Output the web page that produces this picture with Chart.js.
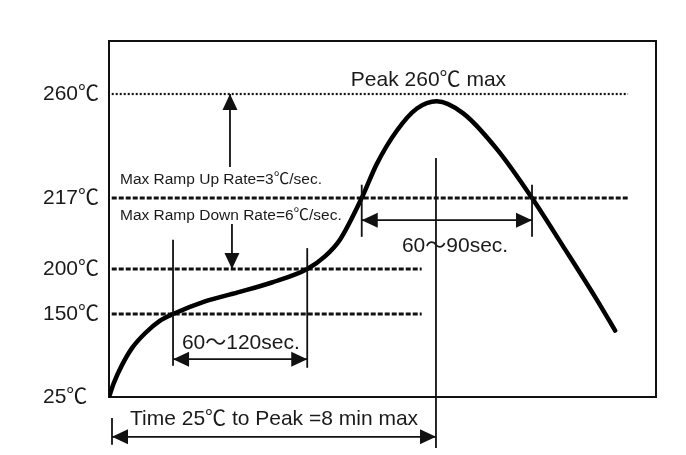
<!DOCTYPE html>
<html><head><meta charset="utf-8">
<script src="https://cdn.jsdelivr.net/npm/chart.js@4/dist/chart.umd.min.js"></script>
<style>html,body{margin:0;padding:0;background:#fff}</style>
</head><body>
<canvas id="c" width="686" height="455"></canvas>
<script>
// ---- data (time in seconds, temperature in °C; schematic profile) ----
const timeSec = [0, 7, 19, 34, 53, 75, 94, 141, 189, 239, 291, 317, 339, 371, 393, 423, 452, 481, 520, 570, 621, 666, 716, 743];
const tempC   = [25, 46, 73, 99, 121, 140, 150, 164, 174, 185, 200, 203, 207, 217, 231, 245, 254, 257, 252, 237, 217, 205.6, 166, 125];
const tickTemps = [25, 150, 200, 217, 260];
const refTemps = [260, 217, 200, 150];
const refEndSec = [762, 762, 459, 459];
const soakStart = 94, soakEnd = 291;        // 150℃ -> 200℃
const liqStart = 371, liqEnd = 621;         // above 217℃
const peakSec = 480;                        // 8 min

// ---- schematic (piecewise) temperature axis ----
const BP_T = [25, 150, 200, 217, 260, 282];
const BP_F = [0, 0.2331, 0.3596, 0.5590, 0.8511, 1.0];
function tempToFrac(t){
  let i = 0;
  if (t <= BP_T[0]) i = 0;
  else if (t >= BP_T[BP_T.length-1]) i = BP_T.length-2;
  else { while (t > BP_T[i+1]) i++; }
  return BP_F[i] + (t - BP_T[i]) * (BP_F[i+1]-BP_F[i]) / (BP_T[i+1]-BP_T[i]);
}
function fracToTemp(f){
  let i = 0;
  if (f <= BP_F[0]) i = 0;
  else if (f >= BP_F[BP_F.length-1]) i = BP_F.length-2;
  else { while (f > BP_F[i+1]) i++; }
  return BP_T[i] + (f - BP_F[i]) * (BP_T[i+1]-BP_T[i]) / (BP_F[i+1]-BP_F[i]);
}
class PiecewiseScale extends Chart.LinearScale {
  getPixelForValue(v){ return this.getPixelForDecimal(tempToFrac(v)); }
  getValueForPixel(p){ return fracToTemp(this.getDecimalForPixel(p)); }
}
PiecewiseScale.id = 'piecewise';
PiecewiseScale.defaults = Chart.LinearScale.defaults;
Chart.register(PiecewiseScale);

const FONT = "'Liberation Sans', Arial, 'Noto Sans CJK SC', sans-serif";
const INK = '#111';

function arrowHead(ctx, x, y, dx, dy, len, half){
  const n = Math.hypot(dx, dy); const ux = dx/n, uy = dy/n;
  ctx.beginPath();
  ctx.moveTo(x, y);
  ctx.lineTo(x - ux*len - uy*half, y - uy*len + ux*half);
  ctx.lineTo(x - ux*len + uy*half, y - uy*len - ux*half);
  ctx.closePath(); ctx.fill();
}
function arrow(ctx, x1, y1, x2, y2, startHead, endHead){
  ctx.beginPath(); ctx.moveTo(x1, y1); ctx.lineTo(x2, y2); ctx.stroke();
  if (endHead) arrowHead(ctx, x2, y2, x2-x1, y2-y1, 16, 7.5);
  if (startHead) arrowHead(ctx, x1, y1, x1-x2, y1-y2, 16, 7.5);
}

const annot = {
  id: 'annot',
  beforeDatasetsDraw(chart){
    const {ctx, chartArea: a, scales: {x, y}} = chart;
    const X = v => x.getPixelForValue(v), Y = v => y.getPixelForValue(v);
    ctx.save();
    ctx.strokeStyle = INK;
    ctx.lineWidth = 2;
    ctx.strokeRect(a.left, a.top, a.right - a.left, a.bottom - a.top);
    refTemps.forEach((t, i) => {
      ctx.beginPath();
      if (t === 260){ ctx.lineWidth = 2.2; ctx.setLineDash([2, 2]); }
      else { ctx.lineWidth = 3; ctx.setLineDash([5, 2]); }
      ctx.moveTo(X(4), Y(t)); ctx.lineTo(X(refEndSec[i]), Y(t));
      ctx.stroke();
    });
    ctx.restore();
  },
  afterDatasetsDraw(chart){
    const {ctx, scales: {x, y}} = chart;
    const X = v => x.getPixelForValue(v), Y = v => y.getPixelForValue(v);
    ctx.save();
    ctx.strokeStyle = INK; ctx.fillStyle = INK; ctx.lineWidth = 1.8; ctx.setLineDash([]);
    const vline = (s, t1, t2) => { ctx.beginPath(); ctx.moveTo(X(s), Y(t1)); ctx.lineTo(X(s), Y(t2)); ctx.stroke(); };
    vline(soakStart, 207, 72);
    vline(soakEnd, 205, 69);
    vline(liqStart, 222.5, 207.7);
    vline(liqEnd, 222.5, 207.7);
    vline(peakSec, 233.5, -52);
    vline(4.4, -6.6, -47);
    // arrows
    arrow(ctx, X(soakStart), Y(82), X(soakEnd), Y(82), true, true);
    arrow(ctx, X(liqStart), Y(211.7), X(liqEnd), Y(211.7), true, true);
    arrow(ctx, X(4.4), Y(-35), X(peakSec), Y(-35), true, true);
    arrow(ctx, X(177.6), Y(229.8), X(177.6), Y(260), false, true);
    arrow(ctx, X(180.5), Y(210.8), X(180.5), Y(200), false, true);
    // texts
    ctx.textBaseline = 'middle'; ctx.textAlign = 'left';
    ctx.font = `21px ${FONT}`;
    ctx.fillStyle = '#1a1a1a';
    ctx.fillText('Peak 260℃ max', X(355), Y(265.8));
    ctx.fillText('60～90sec.', X(430), Y(205.5));
    ctx.fillText('60～120sec.', X(107), Y(106.3));
    ctx.fillText('Time 25℃ to Peak =8 min max', X(30.8), Y(-8));
    ctx.font = `15.5px ${FONT}`;
    ctx.fillText('Max Ramp Up Rate=3℃/sec.', X(16.1), Y(224.4));
    ctx.fillText('Max Ramp Down Rate=6℃/sec.', X(16.1), Y(212.7));
    ctx.restore();
  }
};

new Chart(document.getElementById('c'), {
  type: 'line',
  data: {
    datasets: [{
      data: timeSec.map((s, i) => ({x: s, y: tempC[i]})),
      borderColor: '#000',
      borderWidth: 4.5,
      borderCapStyle: 'round',
      pointRadius: 0,
      cubicInterpolationMode: 'monotone',
      fill: false
    }]
  },
  options: {
    responsive: false,
    animation: false,
    events: [],
    layout: { padding: { left: 43, top: 41, right: 30, bottom: 58 } },
    plugins: { legend: { display: false }, tooltip: { enabled: false } },
    scales: {
      x: { type: 'linear', min: 0, max: 803, display: false },
      y: {
        type: 'piecewise', min: 25, max: 282,
        afterBuildTicks: s => { s.ticks = tickTemps.map(v => ({value: v})); },
        afterFit: s => { s.width = 66; },
        grid: { display: false, drawTicks: false },
        border: { display: false },
        ticks: {
          crossAlign: 'far', padding: 0,
          color: '#1a1a1a',
          font: { size: 21, family: FONT },
          callback: v => v + '℃'
        }
      }
    }
  },
  plugins: [annot]
});
</script>
</body></html>
